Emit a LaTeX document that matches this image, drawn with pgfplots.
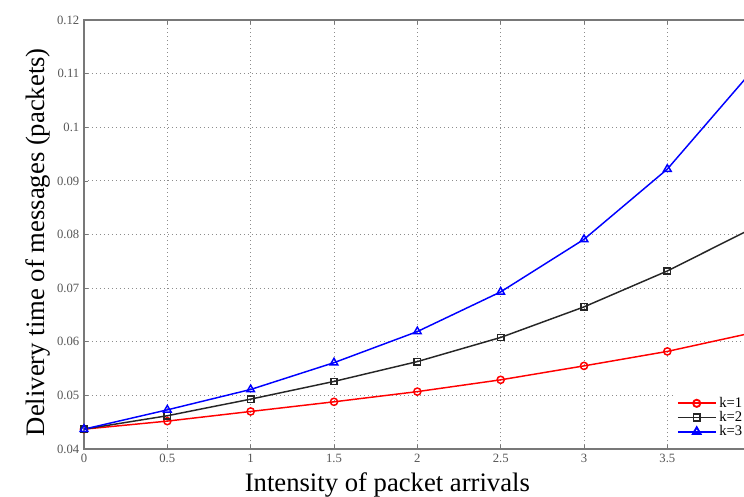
\documentclass[border=0pt]{standalone}
\usepackage{fontspec}
\setmainfont{Liberation Serif}
\usepackage{pgfplots}
\pgfplotsset{compat=1.18}
\definecolor{tickgray}{RGB}{85,85,85}
\definecolor{axgray}{RGB}{120,120,120}
\begin{document}
\begin{tikzpicture}
\begin{axis}[
    scale only axis,
    width=500pt, height=321.75pt,
    xmin=0, xmax=4, ymin=0.04, ymax=0.12,
    xtick={0,0.5,...,3.5}, ytick={0.04,0.05,...,0.121},
    scaled y ticks=false,
    yticklabel style={/pgf/number format/fixed,/pgf/number format/precision=2},
    /pgf/number format/assume math mode=true,
    tick label style={font=\fontsize{9.5}{10}\selectfont, text=tickgray},
    tick align=inside, major tick length=3pt,
    axis line style={axgray, line width=0.8pt},
    every tick/.style={axgray},
    grid=major,
    major grid style={gray!90, line width=0.6pt, dash pattern=on 1pt off 2pt},
    xlabel={Intensity of packet arrivals},
    ylabel={Delivery time of messages (packets)},
    label style={font=\fontsize{20}{22}\selectfont},
    xlabel style={at={(axis cs:1.82,0.04)}, anchor=north, yshift=-14pt},
    ylabel style={at={(ticklabel cs:0.482)}, yshift=-2pt},
    legend style={at={(axis cs:3.975,0.0413)}, anchor=south east, draw=none, fill=white,
        font=\fontsize{11}{11}\selectfont, inner sep=1pt, row sep=-2.5pt},
    legend cell align=left,
    legend image code/.code={\draw[mark repeat=2,mark phase=2,#1,line width=1.4pt] plot coordinates {(0cm,0cm) (0.5cm,0cm) (1cm,0cm)};},
    every axis plot/.append style={line width=1.1pt},
]
\addplot[red, mark=o, mark size=2.7pt, mark options={fill=white, solid}] coordinates {
(0,0.0437) (0.5,0.0452) (1,0.0470) (1.5,0.0488) (2,0.0507) (2.5,0.0529) (3,0.0555) (3.5,0.0582) (4,0.0616)};
\addplot[black!85, mark=square, mark size=2.4pt, mark options={fill=white, solid}] coordinates {
(0,0.0437) (0.5,0.0462) (1,0.0493) (1.5,0.0526) (2,0.0563) (2.5,0.0608) (3,0.0665) (3.5,0.0732) (4,0.0810)};
\addplot[blue, mark=triangle, mark size=3.3pt, mark options={fill=white, solid}] coordinates {
(0,0.0437) (0.5,0.0473) (1,0.0511) (1.5,0.0561) (2,0.0619) (2.5,0.0693) (3,0.0791) (3.5,0.0922) (4,0.1102)};
\legend{k=1,k=2,k=3}
\end{axis}
\pgfresetboundingbox
\useasboundingbox (-63pt,-36pt) rectangle (495pt,336.75pt);
\end{tikzpicture}
\end{document}
